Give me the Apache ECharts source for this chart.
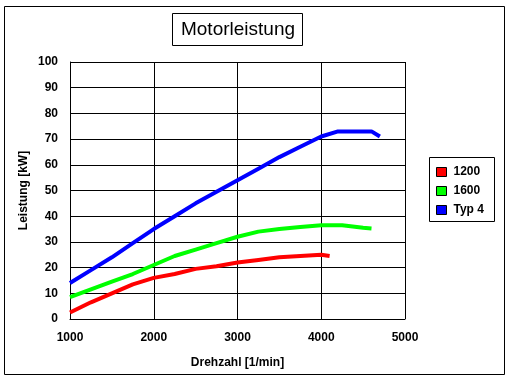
<!DOCTYPE html>
<html>
<head>
<meta charset="utf-8">
<script src="https://cdn.jsdelivr.net/npm/echarts@6/dist/echarts.min.js"></script>
<style>
html,body{margin:0;padding:0;background:#fff;}
#chart{width:511px;height:382px;}
</style>
</head>
<body>
<div id="chart"></div>
<script>
var titleText = 'Motorleistung';
var xAxisName = 'Drehzahl [1/min]';
var yAxisName = 'Leistung [kW]';
var seriesNames = ['1200', '1600', 'Typ 4'];
var seriesColors = ['#ff0000', '#00ff00', '#0000ff'];

var rpm1200 = [1000, 1250, 1500, 1750, 2000, 2250, 2500, 2750, 3000, 3250, 3500, 3750, 4000, 4100];
var kw1200  = [2.5, 6.5, 10, 13.5, 16, 17.5, 19.5, 20.5, 22, 23, 24, 24.5, 25, 24.5];

var rpm1600 = [1000, 1250, 1500, 1750, 2000, 2250, 2500, 2750, 3000, 3250, 3500, 3750, 4000, 4250, 4500, 4600];
var kw1600  = [8.5, 11.5, 14.5, 17.5, 21, 24.5, 27, 29.5, 32, 34, 35, 35.8, 36.5, 36.5, 35.5, 35.2];

var rpmTyp4 = [1000, 1250, 1500, 1750, 2000, 2250, 2500, 2750, 3000, 3250, 3500, 3750, 4000, 4200, 4600, 4700];
var kwTyp4  = [14, 19, 24, 29.5, 35, 40, 45, 49.5, 54, 58.5, 63, 67, 71, 73, 73, 71];

function pairs(xs, ys) { return xs.map(function (x, i) { return [x, ys[i]]; }); }
var seriesData = [pairs(rpm1200, kw1200), pairs(rpm1600, kw1600), pairs(rpmTyp4, kwTyp4)];

var FONT = 'Liberation Sans, Arial, sans-serif';
var chart = echarts.init(document.getElementById('chart'), null, {renderer: 'canvas'});
chart.setOption({
  animation: false,
  backgroundColor: '#ffffff',
  graphic: [
    {type: 'rect', shape: {x: 4.5, y: 6.5, width: 500, height: 368}, style: {fill: 'none', stroke: '#000', lineWidth: 1}, z: 0},
    {type: 'rect', shape: {x: 172.5, y: 13.5, width: 130, height: 32}, style: {fill: '#fff', stroke: '#000', lineWidth: 1}, z: 1},
    {type: 'text', x: 238, y: 30, style: {text: titleText, font: 'normal 19px ' + FONT, fill: '#000', align: 'center', verticalAlign: 'middle'}, z: 2},
    {type: 'rect', shape: {x: 429.5, y: 157.5, width: 65, height: 64}, style: {fill: '#fff', stroke: '#000', lineWidth: 1}, z: 1}
  ],
  grid: {left: 70, top: 62, width: 335, height: 257, containLabel: false},
  legend: {
    orient: 'vertical', left: 436, top: 166, itemGap: 7, itemWidth: 10, itemHeight: 9,
    icon: 'rect', z: 5, padding: 0,
    textStyle: {fontFamily: FONT, fontWeight: 'bold', fontSize: 12, color: '#000', padding: [0, 0, 0, 2]},
    data: seriesNames.map(function (n, i) { return {name: n, itemStyle: {color: seriesColors[i], borderColor: '#000', borderWidth: 1}}; })
  },
  xAxis: {
    type: 'value', min: 1000, max: 5000, interval: 1000,
    name: xAxisName, nameLocation: 'middle', nameGap: 38, nameMoveOverlap: false,
    nameTextStyle: {fontFamily: FONT, fontWeight: 'bold', fontSize: 12, color: '#000'},
    axisLine: {show: true, lineStyle: {color: '#000', width: 1}},
    axisTick: {show: false},
    axisLabel: {fontFamily: FONT, fontWeight: 'bold', fontSize: 12, color: '#000', margin: 13,
      formatter: function (v) { return String(v); }},
    splitLine: {show: true, lineStyle: {color: '#000', width: 1}}
  },
  yAxis: {
    type: 'value', min: 0, max: 100, interval: 10,
    name: yAxisName, nameLocation: 'middle', nameGap: 40, nameRotate: 90, nameMoveOverlap: false,
    nameTextStyle: {fontFamily: FONT, fontWeight: 'bold', fontSize: 12, color: '#000'},
    axisLine: {show: true, lineStyle: {color: '#000', width: 1}},
    axisTick: {show: false},
    axisLabel: {fontFamily: FONT, fontWeight: 'bold', fontSize: 12, color: '#000', margin: 12},
    splitLine: {show: true, lineStyle: {color: '#000', width: 1}}
  },
  series: seriesNames.map(function (n, i) {
    return {
      name: n, type: 'line', data: seriesData[i], showSymbol: false, symbol: 'none',
      lineStyle: {color: seriesColors[i], width: 4}, itemStyle: {color: seriesColors[i]}, z: 3
    };
  })
});
</script>
</body>
</html>
